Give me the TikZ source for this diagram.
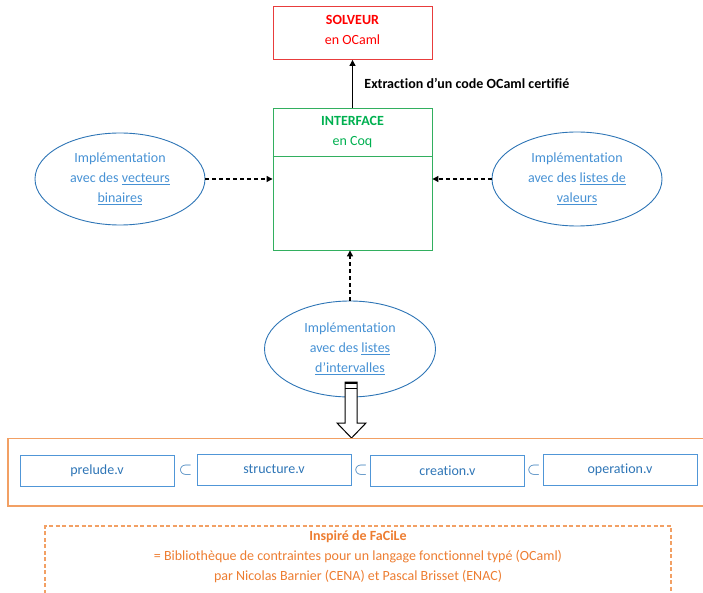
\documentclass[tikz,border=0pt]{standalone}
\usepackage{fontspec}
\setmainfont{Carlito}[Ligatures=NoCommon]
\usetikzlibrary{shapes.geometric,arrows.meta,calc}
\definecolor{solred}{RGB}{255,0,0}
\definecolor{solbord}{RGB}{232,60,60}
\definecolor{cgreen}{RGB}{0,176,80}
\definecolor{gbord}{RGB}{50,175,95}
\definecolor{eblue}{RGB}{46,117,182}
\definecolor{tblue}{RGB}{70,145,212}
\definecolor{fblue}{RGB}{80,150,215}
\definecolor{oline}{RGB}{242,160,100}
\definecolor{otext}{RGB}{237,125,49}
\tikzset{
  mainbox/.style={draw, line width=0.9pt, inner sep=0pt},
  impl/.style={ellipse, draw=eblue, line width=0.9pt, inner sep=0pt, text=tblue, align=center},
  filebox/.style={draw=fblue, line width=0.9pt, minimum width=154pt, minimum height=31pt, inner sep=0pt, text=eblue},
  dasharrow/.style={dash pattern=on 4pt off 3pt, line width=1.2pt, -{Triangle[length=6pt,width=6pt]}},
  subsetsym/.style={text=eblue, inner sep=0pt, font=\fontsize{18}{20}\selectfont},
}
\newcommand{\ul}[1]{\underline{#1}}
\begin{document}
\begin{tikzpicture}[x=1pt,y=-1pt, font=\fontsize{14}{20}\selectfont]
\useasboundingbox (0,0) rectangle (703,593);

% SOLVEUR
\node[mainbox, draw=solbord, minimum width=159pt, minimum height=53pt] (solv) at (352.5,33) {};
\node[text=solred, align=center] (solvtxt) at (352.5,30) {\textbf{SOLVEUR}\\en OCaml};

% INTERFACE
\node[mainbox, draw=gbord, minimum width=159pt, minimum height=142pt] (iface) at (352.5,179) {};
\draw[gbord, line width=0.9pt] (iface.west |- 0,156) -- (iface.east |- 0,156);
\node[text=cgreen, align=center] (ifacetxt) at (352.5,132) {\textbf{INTERFACE}\\en Coq};

% extraction arrow
\draw[line width=1.2pt, -{Triangle[length=6pt,width=6pt]}] (iface.north) -- (solv.south)
  node[midway, right=8pt, font=\fontsize{14}{20}\selectfont\bfseries] (extr) {Extraction d’un code OCaml certifié};

% ellipses
\node[impl, minimum width=170pt, minimum height=92pt] (lell) at (120,179)
  {Implémentation\\avec des \ul{vecteurs}\\\ul{binaires}};
\node[impl, minimum width=170pt, minimum height=94pt] (rell) at (577,179)
  {Implémentation\\avec des \ul{listes de}\\\ul{valeurs}};
\node[impl, minimum width=171pt, minimum height=96pt] (bell) at (350,349)
  {Implémentation\\avec des \ul{listes}\\\ul{d’intervalles}};

\draw[dasharrow] (lell.east) -- (iface.west);
\draw[dasharrow] (rell.west) -- (iface.east);
\draw[dasharrow] (bell.north) -- (bell.north |- iface.south);

% hollow arrow
\draw[line width=1pt, fill=white]
  (345,382) -- (357,382) -- (357,423) -- (366,423) -- (351.5,438) -- (337,423) -- (345,423) -- cycle;
\draw[line width=1.6pt] (345,383) -- (357,383);
\draw[line width=0.8pt] (345,388) -- (357,388);

% orange frame
\draw[oline, line width=1.2pt] (703,438.5) -- (8,438.5) -- (8,506) -- (703,506);

% files
\node[filebox] (prelude) at (97,470.5) {prelude.v};
\node[filebox] (structure) at (274,469.5) {structure.v};
\node[filebox] (creation) at (447.5,470.5) {creation.v};
\node[filebox] (operation) at (620,469.5) {operation.v};
\node[subsetsym] (s1) at ($(prelude.east)!0.5!(structure.west)$) {$\subset$};
\node[subsetsym] (s2) at ($(structure.east)!0.5!(creation.west)$) {$\subset$};
\node[subsetsym] (s3) at ($(creation.east)!0.5!(operation.west)$) {$\subset$};

% FaCiLe
\draw[oline, line width=1.1pt, dash pattern=on 4pt off 2.5pt] (45,600) -- (45,526) -- (671,526) -- (671,600);
\node[text=otext, font=\fontsize{14}{20}\selectfont\bfseries] (fac1) at (358,537) {Inspiré de FaCiLe};
\node[text=otext] (fac2) at (358,557) {= Bibliothèque de contraintes pour un langage fonctionnel typé (OCaml)};
\node[text=otext] (fac3) at (358,577) {par Nicolas Barnier (CENA) et Pascal Brisset (ENAC)};
\end{tikzpicture}
\end{document}
